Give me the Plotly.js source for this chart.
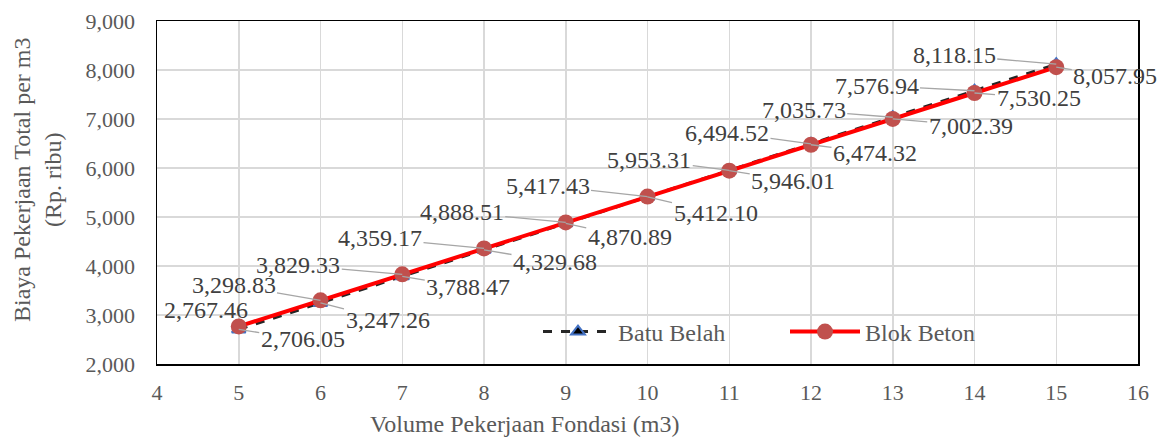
<!DOCTYPE html>
<html>
<head>
<meta charset="utf-8">
<script src="https://cdn.plot.ly/plotly-3.0.1.min.js"></script>
<style>html,body{margin:0;padding:0;background:#fff}#chart{width:1163px;height:437px}</style>
</head>
<body>
<div id="chart"></div>
<script>
// ---- data ----
const volume = [5, 6, 7, 8, 9, 10, 11, 12, 13, 14, 15];
const batuBelah = [2706.05, 3247.26, 3788.47, 4329.68, 4870.89, 5412.10, 5953.31, 6494.52, 7035.73, 7576.94, 8118.15];
const blokBeton = [2767.46, 3298.83, 3829.33, 4359.17, 4888.51, 5417.43, 5946.01, 6474.32, 7002.39, 7530.25, 8057.95];
const seriesNames = ["Batu Belah", "Blok Beton"];
const xTitle = "Volume Pekerjaan Fondasi (m3)";
const yTitle = "Biaya Pekerjaan Total per m3<br>(Rp. ribu)";

// ---- label offsets (pixels, label centre relative to point) ----
const batuOffX = [64, 67, 66, 71, 64, 68, -80, -84, -89, -98, -102];
const batuOffY = [10, 17, 11, 12, 14, 16, -10, -11, -7, -5, -9];
const betonOffX = [-33, -87, -104, -104, -104, -100, 64, 64, 78, 64, 59];
const betonOffY = [-16, -15, -9, -10, -10, -11, 10, 8, 7, 5, 9];

const FONT = "Liberation Serif, Times New Roman, serif";
const GREY = "#595959";
const fmt = v => v.toLocaleString("en-US", {minimumFractionDigits: 2, maximumFractionDigits: 2});

const traces = [
  {
    x: volume, y: batuBelah, name: seriesNames[0], type: "scatter", mode: "lines+markers",
    line: {color: "#262626", width: 3, dash: "dash"},
    marker: {symbol: "triangle-up", size: 12, color: "#000000", line: {color: "#4472C4", width: 2}}
  },
  {
    x: volume, y: blokBeton, name: seriesNames[1], type: "scatter", mode: "lines+markers",
    line: {color: "#FF0000", width: 4},
    marker: {symbol: "circle", size: 16, color: "#C0504D"}
  }
];

const annotations = [];
function addLabels(ys, ox, oy) {
  ys.forEach((v, i) => {
    const near = Math.abs(ox[i]) < 45;
    annotations.push({
      x: volume[i], y: v, xref: "x", yref: "y", text: fmt(v),
      showarrow: !near, arrowhead: 0, arrowwidth: 1.3, arrowcolor: "#A6A6A6",
      ax: ox[i], ay: oy[i], xshift: near ? ox[i] : 0, yshift: near ? -oy[i] : 0,
      font: {family: FONT, size: 24, color: "#404040"}, standoff: 0, startstandoff: 0
    });
  });
}
addLabels(batuBelah, batuOffX, batuOffY);
addLabels(blokBeton, betonOffX, betonOffY);

annotations.push({
  text: xTitle, xref: "paper", yref: "paper", x: (525 - 157) / 981, y: 0, yshift: -60,
  showarrow: false, xanchor: "center", yanchor: "middle",
  font: {family: FONT, size: 24, color: GREY}
});
annotations.push({
  text: yTitle, xref: "paper", yref: "paper", x: 0, xshift: -120, y: (364 - 180) / 343,
  showarrow: false, textangle: -90, xanchor: "center", yanchor: "middle",
  font: {family: FONT, size: 24, color: GREY}
});

const layout = {
  width: 1163, height: 437,
  margin: {l: 157, r: 25, t: 21, b: 73, autoexpand: false},
  paper_bgcolor: "#ffffff", plot_bgcolor: "#ffffff",
  font: {family: FONT, size: 22, color: GREY},
  showlegend: true,
  legend: {
    orientation: "h", x: (538 - 157) / 981, y: (364 - 332) / 343, xanchor: "left", yanchor: "middle",
    bgcolor: "rgba(255,255,255,0)", font: {family: FONT, size: 24, color: GREY},
    itemwidth: 70, entrywidth: 162, traceorder: "normal"
  },
  xaxis: {
    range: [4, 16], dtick: 1, tick0: 4, showgrid: true, gridcolor: "#D9D9D9", gridwidth: 1.5,
    zeroline: false, showline: true, linecolor: "#000000", linewidth: 1.5, mirror: true,
    ticks: "", tickfont: {family: FONT, size: 22, color: GREY}, ticklabelstandoff: 8
  },
  yaxis: {
    range: [2000, 9000], dtick: 1000, showgrid: true, gridcolor: "#D9D9D9", gridwidth: 1.5,
    zeroline: false, showline: true, linecolor: "#000000", linewidth: 1.5, mirror: true,
    ticks: "", tickformat: ",d", tickfont: {family: FONT, size: 22, color: GREY}, ticklabelstandoff: 16
  },
  annotations: annotations
};

Plotly.newPlot("chart", traces, layout, {displayModeBar: false, staticPlot: true});
</script>
</body>
</html>
